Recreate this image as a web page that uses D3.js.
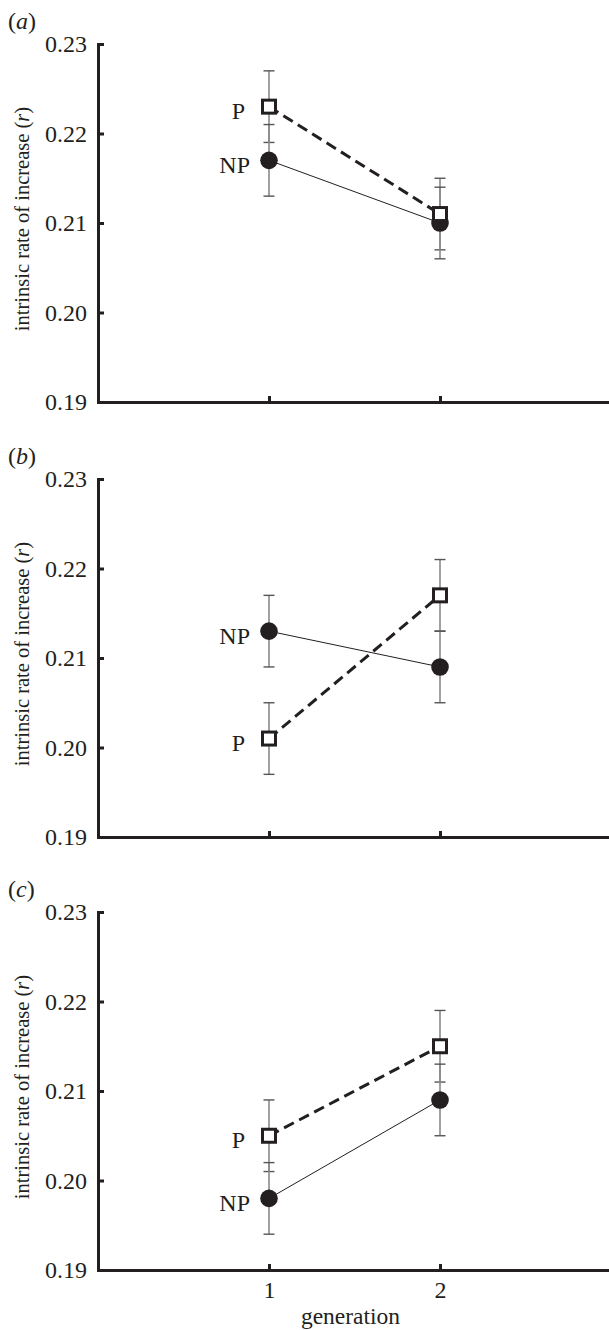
<!DOCTYPE html>
<html>
<head>
<meta charset="utf-8">
<script src="https://cdn.jsdelivr.net/npm/d3@7"></script>
<style>
    body { margin: 0; background: #fff; }
    svg { display: block; }
</style>
</head>
<body>
<div id="chart-container"></div>
<script>
// data
const panelLetters = ["a", "b", "c"];
const generations = [1, 2];
const yTicks = [0.19, 0.20, 0.21, 0.22, 0.23];
const pMeans = [[0.223, 0.211], [0.201, 0.217], [0.205, 0.215]];
const pErrors = [[0.004, 0.004], [0.004, 0.004], [0.004, 0.004]];
const npMeans = [[0.217, 0.210], [0.213, 0.209], [0.198, 0.209]];
const npErrors = [[0.004, 0.004], [0.004, 0.004], [0.004, 0.004]];
const seriesLabels = ["P", "NP"];

const width = 609;
const height = 1330;
const ink = "#231f20";
const font = "'Liberation Serif', 'Times New Roman', serif";
const fontSize = 24;

const panelTops = [44, 479, 912];
const plotHeight = 358;
const left = 98;

const svg = d3.select("#chart-container")
    .append("svg")
    .attr("width", width)
    .attr("height", height)
    .style("font-family", font);

const x = d3.scaleLinear()
    .domain([0, 3])
    .range([left, 611]);

panelLetters.forEach((letter, i) => {
    const top = panelTops[i];
    const y = d3.scaleLinear()
        .domain([0.19, 0.23])
        .range([top + plotHeight, top]);

    const g = svg.append("g").attr("class", "panel");

    // panel letter
    const lab = g.append("text")
        .attr("x", 8)
        .attr("y", top - 15)
        .style("font-size", fontSize + "px")
        .attr("fill", ink);
    lab.append("tspan").text("(");
    lab.append("tspan").style("font-style", "italic").text(letter);
    lab.append("tspan").text(")");

    // y axis
    const yAxis = g.append("g")
        .attr("transform", `translate(${left},0)`)
        .call(d3.axisLeft(y)
            .tickValues(yTicks)
            .tickFormat(d3.format(".2f"))
            .tickSize(-6)
            .tickSizeOuter(0)
            .tickPadding(11));

    // x axis
    const xAxis = g.append("g")
        .attr("transform", `translate(0,${top + plotHeight})`)
        .call(d3.axisBottom(x)
            .tickValues(generations)
            .tickFormat(i === 2 ? d3.format("d") : () => "")
            .tickSize(-6)
            .tickSizeOuter(0)
            .tickPadding(11));

    [yAxis, xAxis].forEach(ax => {
        ax.select(".domain")
            .attr("stroke", ink)
            .attr("stroke-width", 3)
            .attr("stroke-linecap", "square");
        ax.selectAll(".tick line")
            .attr("stroke", ink)
            .attr("stroke-width", 3);
        ax.selectAll(".tick text")
            .attr("fill", ink)
            .style("font-family", font)
            .style("font-size", fontSize + "px");
    });

    // y title
    const ty = g.append("text")
        .attr("transform", `translate(29,${top + plotHeight / 2 - 4}) rotate(-90)`)
        .attr("text-anchor", "middle")
        .attr("fill", ink)
        .style("font-size", "20.5px");
    ty.append("tspan").text("intrinsic rate of increase (");
    ty.append("tspan").style("font-style", "italic").text("r");
    ty.append("tspan").text(")");

    const series = [
        { key: "P", means: pMeans[i], errs: pErrors[i] },
        { key: "NP", means: npMeans[i], errs: npErrors[i] }
    ];

    // error bars
    series.forEach(s => {
        const eb = g.append("g").attr("class", "errorbars");
        generations.forEach((gen, j) => {
            const cx = x(gen);
            const hi = y(s.means[j] + s.errs[j]);
            const lo = y(s.means[j] - s.errs[j]);
            eb.append("line")
                .attr("x1", cx).attr("x2", cx)
                .attr("y1", hi).attr("y2", lo)
                .attr("stroke", "#8a8a8a")
                .attr("stroke-width", 1.6);
            [hi, lo].forEach(yy => {
                eb.append("line")
                    .attr("x1", cx - 5.5).attr("x2", cx + 5.5)
                    .attr("y1", yy).attr("y2", yy)
                    .attr("stroke", "#555")
                    .attr("stroke-width", 1.4);
            });
        });
    });

    const line = d3.line()
        .x((d, j) => x(generations[j]))
        .y(d => y(d));

    // NP solid line
    g.append("path")
        .datum(series[1].means)
        .attr("d", line)
        .attr("fill", "none")
        .attr("stroke", ink)
        .attr("stroke-width", 1);

    // P dashed line
    g.append("path")
        .datum(series[0].means)
        .attr("d", line)
        .attr("fill", "none")
        .attr("stroke", ink)
        .attr("stroke-width", 3)
        .attr("stroke-dasharray", "11,6");

    // NP markers
    g.selectAll(".np")
        .data(series[1].means)
        .enter()
        .append("circle")
        .attr("class", "np")
        .attr("cx", (d, j) => x(generations[j]))
        .attr("cy", d => y(d))
        .attr("r", 8.8)
        .attr("fill", ink);

    // P markers
    g.selectAll(".p")
        .data(series[0].means)
        .enter()
        .append("rect")
        .attr("class", "p")
        .attr("x", (d, j) => x(generations[j]) - 6.5)
        .attr("y", d => y(d) - 6.5)
        .attr("width", 13)
        .attr("height", 13)
        .attr("fill", "#fff")
        .attr("stroke", ink)
        .attr("stroke-width", 3);

    // series labels next to generation 1
    series.forEach((s, k) => {
        g.append("text")
            .attr("x", x(generations[0]) - (s.key === "P" ? 24 : 19))
            .attr("y", y(s.means[0]) + 4)
            .attr("dy", "0.35em")
            .attr("text-anchor", "end")
            .attr("fill", ink)
            .style("font-size", fontSize + "px")
            .text(seriesLabels[k]);
    });
});

svg.append("text")
    .attr("x", (x(1) + x(2)) / 2 - 4)
    .attr("y", 1324)
    .attr("text-anchor", "middle")
    .attr("fill", ink)
    .style("font-size", "23.5px")
    .text("generation");
</script>
</body>
</html>
